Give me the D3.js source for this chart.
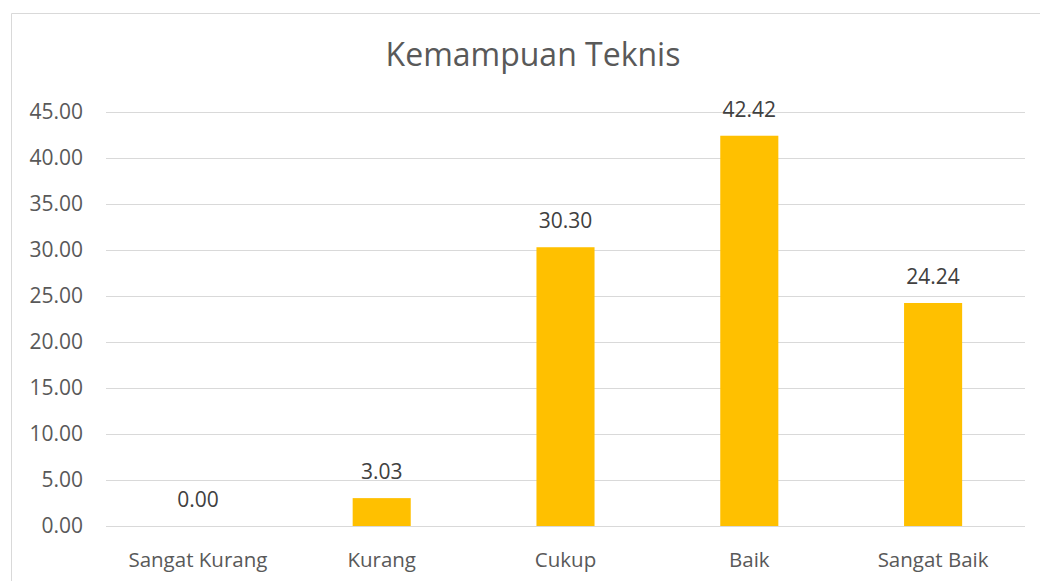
<!DOCTYPE html>
<html>
<head>
<meta charset="utf-8">
<script src="https://cdn.jsdelivr.net/npm/d3@7"></script>
<style>
  body { margin: 0; background: #fff; }
  svg { display: block; font-family: "Open Sans", "DejaVu Sans", sans-serif; }
</style>
</head>
<body>
<div id="chart"></div>
<script>
const categories = ["Sangat Kurang", "Kurang", "Cukup", "Baik", "Sangat Baik"];
const values = [0.00, 3.03, 30.30, 42.42, 24.24];
const yTicks = [0, 5, 10, 15, 20, 25, 30, 35, 40, 45];
const chartTitle = "Kemampuan Teknis";

const width = 1040;
const height = 581;

const margin = { top: 112, right: 15, bottom: 55, left: 106 };
const innerWidth = width - margin.left - margin.right;
const innerHeight = height - margin.top - margin.bottom;

const svg = d3.select("#chart").append("svg")
    .attr("width", width)
    .attr("height", height);

// outer chart frame: only left and top edges are inside the page
svg.append("path")
    .attr("d", `M11.5,${height} V13.5 H${width}`)
    .style("fill", "none")
    .style("stroke", "#d9d9d9")
    .style("stroke-width", 1);

const chart = svg.append("g")
    .attr("transform", `translate(${margin.left}, ${margin.top})`);

const xScale = d3.scaleBand()
    .domain(categories)
    .range([0, innerWidth])
    .paddingInner(0.684)
    .paddingOuter(0.342);

const yScale = d3.scaleLinear()
    .domain([0, 45])
    .range([innerHeight, 0]);

// gridlines
chart.append("g")
    .selectAll("line")
    .data(yTicks)
    .enter()
    .append("line")
    .attr("x1", 0)
    .attr("x2", innerWidth)
    .attr("y1", d => Math.round(yScale(d)) + 0.5)
    .attr("y2", d => Math.round(yScale(d)) + 0.5)
    .style("stroke", "#d9d9d9")
    .style("stroke-width", 1);

const yAxis = d3.axisLeft(yScale)
    .tickValues(yTicks)
    .tickSize(0)
    .tickPadding(23)
    .tickFormat(d => d.toFixed(2));

chart.append("g")
    .attr("class", "y-axis")
    .call(yAxis)
    .call(g => g.select(".domain").remove())
    .selectAll("text")
    .style("font-size", "21px")
    .style("fill", "#595959")
    .style("font-family", "'Open Sans', sans-serif");

const xAxis = d3.axisBottom(xScale)
    .tickSize(0)
    .tickPadding(26);

chart.append("g")
    .attr("class", "x-axis")
    .attr("transform", `translate(0, ${innerHeight})`)
    .call(xAxis)
    .call(g => g.select(".domain").remove())
    .selectAll("text")
    .style("font-size", "20.5px")
    .style("fill", "#595959")
    .style("font-family", "'Open Sans', sans-serif");

// bars
chart.selectAll(".bar")
    .data(values)
    .enter()
    .append("rect")
    .attr("class", "bar")
    .attr("x", (d, i) => xScale(categories[i]))
    .attr("y", d => yScale(d))
    .attr("width", xScale.bandwidth())
    .attr("height", d => innerHeight - yScale(d))
    .style("fill", "#ffc000");

// data labels
chart.selectAll(".label")
    .data(values)
    .enter()
    .append("text")
    .attr("class", "label")
    .attr("x", (d, i) => xScale(categories[i]) + xScale.bandwidth() / 2)
    .attr("y", d => yScale(d) - 19)
    .attr("text-anchor", "middle")
    .style("font-size", "21px")
    .style("fill", "#404040")
    .text(d => d.toFixed(2));

// Chart Title
svg.append("text")
    .attr("x", 533)
    .attr("y", 66)
    .attr("text-anchor", "middle")
    .style("fill", "#595959")
    .style("font-size", "32px")
    .text(chartTitle);
</script>
</body>
</html>
